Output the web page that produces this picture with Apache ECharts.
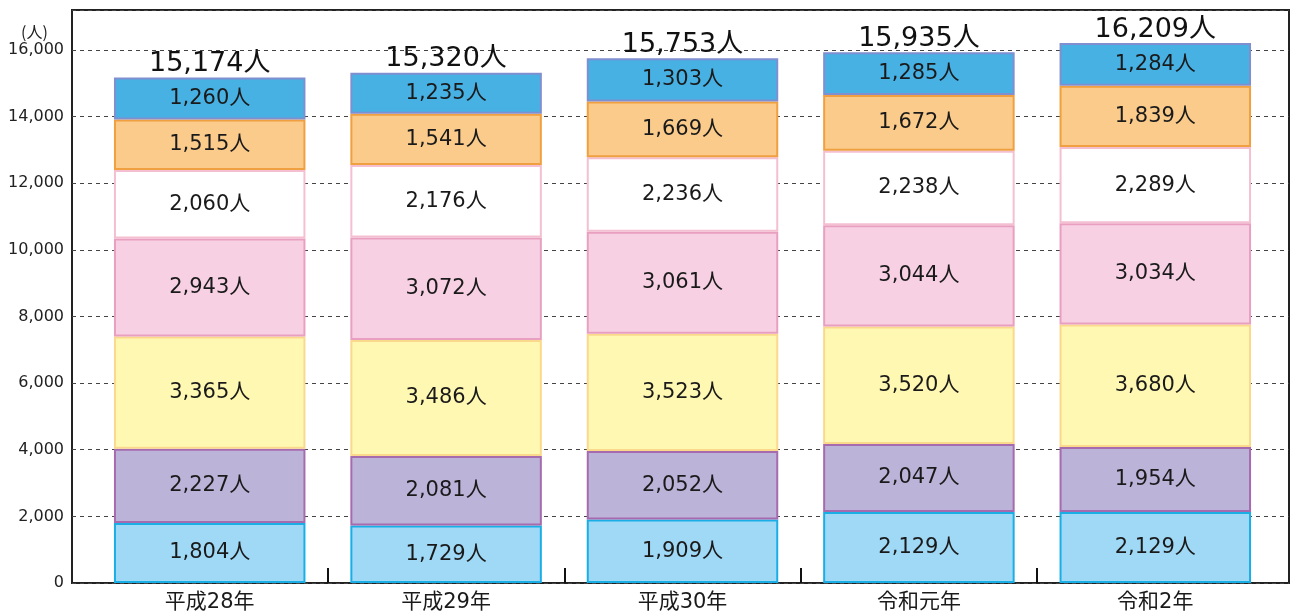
<!DOCTYPE html>
<html>
<head>
<meta charset="utf-8">
<script src="https://cdn.jsdelivr.net/npm/echarts@6/dist/echarts.min.js"></script>
<style>
  html, body { margin: 0; padding: 0; background: #fff; }
  #chart { width: 1292px; height: 616px; }
</style>
</head>
<body>
<div id="chart"></div>
<script>
// データ（下から順）
const categories = ["平成28年", "平成29年", "平成30年", "令和元年", "令和2年"];
const s1 = [1804, 1729, 1909, 2129, 2129];
const s2 = [2227, 2081, 2052, 2047, 1954];
const s3 = [3365, 3486, 3523, 3520, 3680];
const s4 = [2943, 3072, 3061, 3044, 3034];
const s5 = [2060, 2176, 2236, 2238, 2289];
const s6 = [1515, 1541, 1669, 1672, 1839];
const s7 = [1260, 1235, 1303, 1285, 1284];
const totals = [15174, 15320, 15753, 15935, 16209];
const yTicks = [0, 2000, 4000, 6000, 8000, 10000, 12000, 14000, 16000];

const NUM_FONT = '"DejaVu Sans", "Noto Sans CJK JP", sans-serif';
const JP_FONT = '"Noto Sans CJK JP", "Noto Sans", sans-serif';
const fmt = v => v.toLocaleString("en-US");

const styles = [
    { fill: "#A0D9F6", border: "#1AAEE6" },
    { fill: "#BCB3D9", border: "#A66BAE" },
    { fill: "#FFF8B3", border: "#FAD98C" },
    { fill: "#F7D1E3", border: "#E9A0C0" },
    { fill: "#FFFFFF", border: "#F5BFD2" },
    { fill: "#FACB8B", border: "#F0A040" },
    { fill: "#47B1E4", border: "#7F8FCF" }
];

const BAR_W = "81%";
const seriesData = [s1, s2, s3, s4, s5, s6, s7];
const series = seriesData.map((d, i) => ({
    type: "bar", stack: "total", data: d, barWidth: BAR_W,
    xAxisIndex: 1, yAxisIndex: 1,
    itemStyle: { color: styles[i].fill, borderColor: styles[i].border, borderWidth: 2 },
    label: {
        show: true, position: "inside", color: "#1a1a1a", fontSize: 21, fontFamily: NUM_FONT,
        formatter: p => fmt(p.value) + "人"
    }
}));
// 合計ラベル
series.push({
    type: "bar", stack: "total", data: totals.map(() => 0), barWidth: BAR_W,
    xAxisIndex: 1, yAxisIndex: 1,
    itemStyle: { color: "transparent" },
    label: {
        show: true, position: "top", distance: 0, color: "#111", fontSize: 27, fontFamily: NUM_FONT,
        formatter: p => fmt(totals[p.dataIndex]) + "人"
    }
});

const hiddenY = { type: "value", min: 0, max: 17200, interval: 2000, show: false };

const chart = echarts.init(document.getElementById("chart"));
chart.setOption({
    animation: false,
    grid: [
        // 枠・目盛線
        { left: 72, right: 3, top: 10, bottom: 33, show: true, borderColor: "#222", borderWidth: 2 },
        // 棒グラフ
        { left: 91.5, right: 18.5, top: 10, bottom: 33 },
        // 区切り目盛
        { left: 328, right: 255, top: 10, bottom: 33 }
    ],
    graphic: [{
        type: "text", left: 21, top: 24,
        style: { text: "(人)", fontSize: 16, fill: "#222", fontFamily: JP_FONT }
    }],
    xAxis: [
        { type: "value", gridIndex: 0, show: false },
        {
            type: "category", gridIndex: 1, data: categories,
            axisLine: { show: false }, axisTick: { show: false },
            axisLabel: { color: "#1a1a1a", fontSize: 21, margin: 9, fontFamily: NUM_FONT }
        },
        {
            type: "category", gridIndex: 2, data: categories.slice(1), boundaryGap: false,
            axisLine: { show: false },
            axisTick: { show: true, inside: true, length: 15, alignWithLabel: true, lineStyle: { color: "#111", width: 2 } },
            axisLabel: { show: false }
        }
    ],
    yAxis: [
        {
            type: "value", gridIndex: 0, min: 0, max: 17200, interval: 2000,
            axisLine: { show: false }, axisTick: { show: false },
            axisLabel: {
                color: "#222", fontSize: 16, margin: 8, fontFamily: NUM_FONT,
                formatter: v => yTicks.includes(v) ? fmt(v) : ""
            },
            splitLine: { lineStyle: { color: "#444", type: [4, 4], width: 1 } }
        },
        Object.assign({ gridIndex: 1 }, hiddenY),
        Object.assign({ gridIndex: 2 }, hiddenY)
    ],
    series: series
});
</script>
</body>
</html>
